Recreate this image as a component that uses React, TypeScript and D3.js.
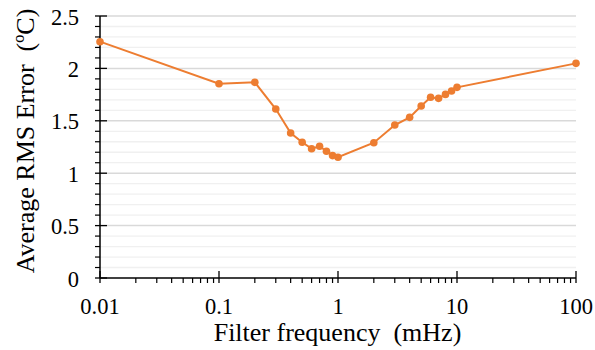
import React from "react";
import * as d3 from "d3";

const frequencies = [0.01, 0.1, 0.2, 0.3, 0.4, 0.5, 0.6, 0.7, 0.8, 0.9, 1, 2, 3, 4, 5, 6, 7, 8, 9, 10, 100];
const rmsErrors = [2.255, 1.853, 1.867, 1.612, 1.384, 1.295, 1.234, 1.257, 1.21, 1.168, 1.152, 1.291, 1.46, 1.533, 1.641, 1.724, 1.714, 1.752, 1.784, 1.819, 2.048];
const xTickValues = [0.01, 0.1, 1, 10, 100];
const xTickLabels = ["0.01", "0.1", "1", "10", "100"];
const yTickValues = [0, 0.5, 1, 1.5, 2, 2.5];
const yTickLabels = ["0", "0.5", "1", "1.5", "2", "2.5"];

const W = 595;
const H = 350;
const M = { left: 100, right: 19, top: 16, bottom: 72 };
const FONT = "Liberation Serif";
const ORANGE = "#ED7D31";

export default function App() {
  const x = d3.scaleLog().domain([0.01, 100]).range([M.left, W - M.right]);
  const y = d3.scaleLinear().domain([0, 2.5]).range([H - M.bottom, M.top]);

  const minorY = d3.range(0, 2.5001, 0.1).map((v) => Math.round(v * 10) / 10).filter((v) => !yTickValues.includes(v));
  const minorX: number[] = [];
  for (let d = 0; d < 4; d++) {
    const base = xTickValues[d];
    for (let k = 2; k <= 9; k++) minorX.push(base * k);
  }

  const pts = frequencies.map((f, i) => [x(f), y(rmsErrors[i])] as [number, number]);
  const line = d3.line()(pts) || "";
  const x0 = x(0.01);
  const x1 = x(100);
  const yBase = y(0);
  const tickStyle = { fontFamily: FONT, fontSize: "22.5px", whiteSpace: "pre" as const };
  const titleStyle = { fontFamily: FONT, fontSize: "26px", whiteSpace: "pre" as const };

  return (
    <svg width={W} height={H} style={{ position: "absolute", left: 0, top: 0 }}>
      <rect width={W} height={H} fill="#fff" />
      {minorY.map((v) => (
        <line key={"mg" + v} x1={x0} x2={x1} y1={y(v)} y2={y(v)} stroke="#f0f0f0" strokeWidth={1.3} />
      ))}
      {yTickValues.filter((v) => v > 0).map((v) => (
        <line key={"g" + v} x1={x0} x2={x1} y1={y(v)} y2={y(v)} stroke="#d9d9d9" strokeWidth={1.5} />
      ))}
      {/* y axis */}
      <line x1={x0} x2={x0} y1={M.top} y2={yBase} stroke="#000" strokeWidth={1.5} />
      {minorY.map((v) => (
        <line key={"myt" + v} x1={x0 - 5} x2={x0} y1={y(v)} y2={y(v)} stroke="#000" strokeWidth={1.2} />
      ))}
      {yTickValues.map((v, i) => (
        <g key={"yt" + v}>
          <line x1={x0 - 5} x2={x0 + 7} y1={y(v)} y2={y(v)} stroke="#000" strokeWidth={1.3} />
          <text x={79} y={y(v) + 8.5} textAnchor="end" fill="#000" style={tickStyle}>
            {yTickLabels[i]}
          </text>
        </g>
      ))}
      {/* x axis */}
      <line x1={x0} x2={x1} y1={yBase} y2={yBase} stroke="#000" strokeWidth={1.5} />
      {minorX.map((v) => (
        <line key={"mxt" + v} x1={x(v)} x2={x(v)} y1={yBase} y2={yBase + 5} stroke="#000" strokeWidth={1.2} />
      ))}
      {xTickValues.map((v, i) => (
        <g key={"xt" + v}>
          <line x1={x(v)} x2={x(v)} y1={yBase - 7} y2={yBase + 5} stroke="#000" strokeWidth={1.3} />
          <text x={x(v)} y={314} textAnchor="middle" fill="#000" style={tickStyle}>
            {xTickLabels[i]}
          </text>
        </g>
      ))}
      {/* series */}
      <path d={line} fill="none" stroke={ORANGE} strokeWidth={2} />
      {pts.map((p, i) => (
        <circle key={"p" + i} cx={p[0]} cy={p[1]} r={3.8} fill={ORANGE} />
      ))}
      {/* titles */}
      <text x={337.5} y={341} textAnchor="middle" fill="#000" style={titleStyle}>
        {"Filter frequency  (mHz)"}
      </text>
      <text transform="translate(33.5, 141) rotate(-90)" textAnchor="middle" fill="#000" style={titleStyle}>
        {"Average RMS Error  (ºC)"}
      </text>
    </svg>
  );
}
